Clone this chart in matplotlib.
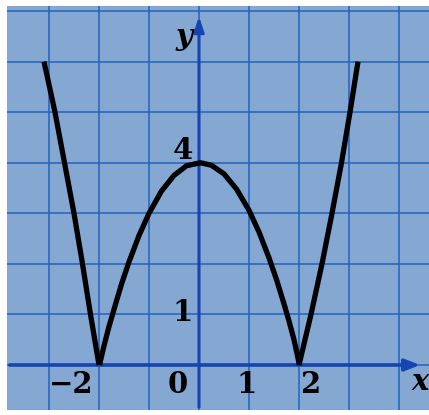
import matplotlib
matplotlib.use('Agg')
import matplotlib.pyplot as plt

# points (grid units)
left_x = [-3.1, -2.88, -2.69, -2.5, -2.33, -2.17, -2.0]
left_y = [6.0, 5.0, 4.0, 3.0, 2.0, 1.0, 0.0]

arch_x = [-1.99, -1.9, -1.8, -1.7, -1.55, -1.4, -1.2, -1.0, -0.75, -0.5, -0.25,
          0.03, 0.25, 0.5, 0.75, 1.0, 1.2, 1.4, 1.55, 1.7, 1.8, 1.9, 2.01]
arch_y = [0.0, 0.38, 0.76, 1.1, 1.6, 2.04, 2.56, 3.0, 3.44, 3.75, 3.94,
          4.0, 3.95, 3.78, 3.48, 3.06, 2.63, 2.12, 1.69, 1.21, 0.87, 0.5, 0.0]

right_x = [2.0, 2.24, 2.46, 2.66, 2.85, 3.02, 3.18]
right_y = [0.0, 1.0, 2.0, 3.0, 4.0, 5.0, 6.0]

x_tick_labels = ['\u22122', '0', '1', '2']
x_tick_pos = [-2.56, -0.42, 0.96, 2.22]
y_tick_labels = ['1', '4']
y_tick_pos = [1.03, 4.24]

paper = '#85a8d3'
grid_blue = '#2a66c0'
axis_blue = '#1545b0'

fig = plt.figure(figsize=(4.29, 4.15), dpi=100)
ax = fig.add_axes([7 / 429, 5 / 415, 422 / 429, 404 / 415])
ax.set_facecolor(paper)
ax.set_xlim(-3.84, 4.6)
ax.set_ylim(-0.89, 7.1)

# graph paper grid
for gx in range(-3, 5):
    ax.axvline(gx, color=grid_blue, lw=1.4, alpha=0.85, zorder=1)
for gy in range(0, 8):
    ax.axhline(gy, color=grid_blue, lw=1.4, alpha=0.85, zorder=1)

# axes with arrows
ax.annotate('', xy=(4.48, 0), xytext=(-3.84, 0),
            arrowprops=dict(arrowstyle='-|>,head_length=0.9,head_width=0.35',
                            color=axis_blue, lw=2.6), zorder=2)
ax.annotate('', xy=(0, 6.95), xytext=(0, -0.89),
            arrowprops=dict(arrowstyle='-|>,head_length=0.9,head_width=0.3',
                            color=axis_blue, lw=2.2), zorder=2)

# the curve
for xs, ys in [(left_x, left_y), (arch_x, arch_y), (right_x, right_y)]:
    ax.plot(xs, ys, color='black', lw=3.8, solid_capstyle='butt',
            solid_joinstyle='round', zorder=3)

num_font = dict(family='DejaVu Serif', fontweight='bold', fontsize=21, color='black')
for lab, px in zip(x_tick_labels, x_tick_pos):
    ax.text(px, -0.38, lab, ha='center', va='center', zorder=4, **num_font)
for lab, py in zip(y_tick_labels, y_tick_pos):
    ax.text(-0.32, py, lab, ha='center', va='center', zorder=4, **num_font)

ax.text(-0.3, 6.5, 'y', ha='center', va='center', style='italic', zorder=4, **num_font)
ax.text(4.42, -0.33, 'x', ha='center', va='center', style='italic', zorder=4, **num_font)

ax.set_xticks([])
ax.set_yticks([])
for s in ax.spines.values():
    s.set_visible(False)

fig.savefig('out.png', dpi=100, facecolor='white')
